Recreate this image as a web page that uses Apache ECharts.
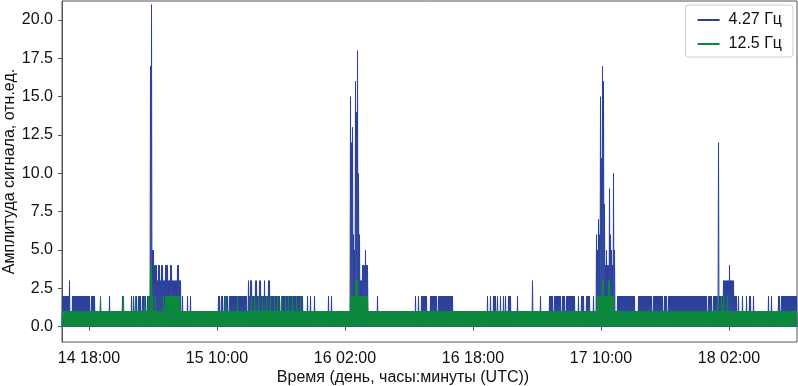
<!DOCTYPE html>
<html>
<head>
<meta charset="utf-8">
<script src="https://cdn.jsdelivr.net/npm/echarts@6/dist/echarts.min.js"></script>
<style>
html,body{margin:0;padding:0;background:#fff;}
#chart{width:798px;height:386px;}
</style>
</head>
<body>
<div id="chart"></div>
<script>
// Time is in hours counted from day 14, 00:00 UTC.
// Each envelope entry: [hour at which level starts, peak level reached by the signal from then on]
const seriesNames = ['4.27 Гц', '12.5 Гц'];
const timeStart = 14.625;
const timeEnd = 106.5;
const sampleStep = 0.125;

const blueEnvelope = [
 [14.625,2],[15.5,3],[15.625,1],[15.875,2],[18.125,1],[18.25,2],[18.75,1],[19.375,2],[19.5,1],
 [20.5,2],[20.625,1],[22.125,2],[22.25,1],[23.25,2],[23.375,1],[23.5,2],[23.625,1],[23.75,2],
 [24.0,1],[24.125,2],[24.5,1],[24.625,2],[25.125,1],[25.25,2],[25.625,17],[25.75,21],[25.875,5],
 [26.125,4],[26.5,3],[26.625,4],[26.875,3],[27.0,4],[27.25,3],[27.5,4],[27.875,3],[28.125,4],
 [28.375,3],[29.0,4],[29.25,3],[29.5,1],[29.625,2],[29.75,1],[30.25,2],[30.375,1],[30.625,2],
 [30.75,1],[34.125,2],[34.375,1],[34.5,2],[34.75,1],[34.875,2],[35.375,1],[35.5,2],[37.75,1],
 [37.875,3],[38.0,2],[38.125,3],[38.375,2],[38.75,3],[39.0,2],[39.25,3],[39.5,2],[39.875,3],
 [40.0,2],[40.375,3],[40.625,2],[41.875,1],[42.0,2],[43.375,1],[43.5,2],[44.75,1],[45.25,2],
 [45.375,1],[45.625,2],[45.75,1],[46.125,2],[46.25,1],[47.875,2],[48.0,1],[48.25,2],[48.375,1],
 [50.625,15],[50.75,12],[50.875,13],[51.0,6],[51.125,5],[51.25,16],[51.375,14],[51.5,18],
 [51.625,10],[51.75,6],[51.875,3],[52.125,4],[52.5,5],[52.625,4],[52.875,1],[54.0,2],[54.125,1],
 [58.75,2],[58.875,1],[59.125,2],[59.25,1],[59.5,2],[60.25,1],[60.625,2],[61.5,1],[61.625,2],
 [63.5,1],[67.75,2],[67.875,1],[68.125,2],[68.25,1],[68.5,2],[68.875,1],[69.0,2],[69.125,1],
 [69.375,2],[69.5,1],[69.75,2],[69.875,1],[70.0,2],[70.125,1],[70.375,2],[70.75,1],[71.5,2],
 [71.625,1],[73.375,3],[73.5,1],[74.375,2],[74.5,1],[75.5,2],[76.0,1],[76.125,2],[77.0,1],
 [77.125,2],[77.5,1],[77.625,2],[78.75,1],[79.125,2],[79.25,1],[79.5,2],[79.875,1],[80.125,2],
 [80.625,1],[81.0,2],[81.125,1],[81.375,6],[81.5,5],[81.625,7],[81.75,6],[81.875,15],[82.0,11],
 [82.125,17],[82.25,16],[82.375,8],[82.5,4],[82.625,5],[82.75,4],[83.0,9],[83.125,6],[83.25,5],
 [83.375,4],[83.5,10],[83.625,5],[83.75,1],[84.0,2],[86.25,1],[86.625,2],[88.375,1],[88.5,2],
 [89.75,1],[89.875,2],[90.25,1],[90.375,2],[95.25,1],[95.375,2],[95.875,1],[96.0,2],[96.625,12],
 [96.75,2],[97.25,3],[98.0,4],[98.125,3],[98.625,2],[99.0,1],[99.125,2],[99.25,1],[99.625,2],
 [99.75,1],[100.125,2],[100.25,1],[100.5,2],[100.75,1],[101.0,2],[101.125,1],[102.875,2],
 [103.0,1],[103.25,2],[103.375,1],[104.125,2],[104.375,1],[104.5,2]
];

const greenEnvelope = [
 [14.625,1],[19.375,2],[19.5,1],[22.25,2],[22.375,1],[23.75,2],[23.875,1],[24.875,2],[25.0,1],
 [25.375,2],[25.5,1],[25.625,4],[25.875,2],[26.0,1],[26.25,2],[26.375,1],[27.25,2],[27.375,1],
 [27.5,2],[29.375,1],[35.0,2],[35.125,1],[36.5,2],[36.625,1],[38.25,2],[38.375,1],[38.625,2],
 [38.75,1],[39.125,2],[39.25,1],[39.625,2],[39.75,1],[40.125,2],[40.25,1],[40.625,2],[40.75,1],
 [41.125,2],[41.25,1],[41.5,2],[41.625,1],[42.0,2],[42.125,1],[42.5,2],[42.625,1],[42.875,2],
 [43.0,1],[43.375,2],[43.5,1],[43.875,2],[44.0,1],[44.375,2],[44.5,1],[50.625,2],[51.25,3],
 [51.625,2],[52.875,1],[81.5,2],[82.125,3],[82.375,2],[82.875,3],[83.125,2],[83.625,1],
 [96.5,2],[96.625,1],[97.0,2],[97.125,1],[97.25,2],[97.375,1],[97.75,2],[97.875,1]
];
const signalFloor = 0;

const xTickHours = [18, 34, 50, 66, 82, 98];
const xTickLabels = ['14 18:00', '15 10:00', '16 02:00', '16 18:00', '17 10:00', '18 02:00'];
const yTickValues = [0, 2.5, 5, 7.5, 10, 12.5, 15, 17.5, 20];

function levelAt(env, t) {
  let v = env[0][1];
  for (let i = 0; i < env.length; i++) {
    if (env[i][0] <= t + 1e-9) v = env[i][1]; else break;
  }
  return v;
}
function buildPoints(env) {
  const pts = [];
  const n = Math.round((timeEnd - timeStart) / sampleStep);
  for (let k = 0; k < n; k++) {
    const t = timeStart + k * sampleStep;
    pts.push([t, signalFloor]);
    pts.push([t + sampleStep / 2, levelAt(env, t)]);
  }
  pts.push([timeEnd, signalFloor]);
  return pts;
}

const FONT = '"Liberation Sans", Arial, sans-serif';
const chart = echarts.init(document.getElementById('chart'), null, {renderer: 'canvas'});
chart.setOption({
  animation: false,
  backgroundColor: '#fff',
  textStyle: {fontFamily: FONT},
  grid: {left: 62, right: 1, top: 1, bottom: 44, show: true, borderColor: '#555', borderWidth: 1,
         backgroundColor: 'transparent', containLabel: false, outerBoundsMode: 'none'},
  legend: {
    orient: 'vertical', right: 5, top: 5,
    icon: 'rect', itemWidth: 22, itemHeight: 2, itemGap: 6,
    padding: [6, 11, 4, 12],
    borderColor: '#ccc', borderWidth: 1, borderRadius: 3, backgroundColor: '#fff',
    textStyle: {fontSize: 16, color: '#111', fontFamily: FONT, lineHeight: 18, padding: [0, 0, 0, 4]},
    data: seriesNames
  },
  xAxis: {
    type: 'value', min: timeStart, max: timeEnd,
    axisLine: {show: true, lineStyle: {color: '#555', width: 1}},
    axisTick: {show: true, customValues: xTickHours, length: 4, lineStyle: {color: '#555'}},
    axisLabel: {customValues: xTickHours, formatter: v => xTickLabels[xTickHours.indexOf(Math.round(v))] || '',
      fontSize: 16, color: '#111', margin: 9, fontFamily: FONT},
    splitLine: {show: false},
    name: 'Время (день, часы:минуты (UTC))', nameLocation: 'middle', nameGap: 28, nameMoveOverlap: false,
    nameTextStyle: {fontSize: 16, color: '#111', fontFamily: FONT, padding: [0, 53, 0, 0]}
  },
  yAxis: {
    type: 'value', min: -1.0, max: 21.24,
    axisLine: {show: true, lineStyle: {color: '#555', width: 1}},
    axisTick: {show: true, customValues: yTickValues, length: 4, lineStyle: {color: '#555'}},
    axisLabel: {customValues: yTickValues, formatter: v => v.toFixed(1), fontSize: 16, color: '#111', margin: 9, fontFamily: FONT},
    splitLine: {show: false},
    name: 'Амплитуда сигнала, отн.ед.', nameLocation: 'middle', nameGap: 44, nameMoveOverlap: false,
    nameTextStyle: {fontSize: 16, color: '#111', fontFamily: FONT}
  },
  series: [
    {name: seriesNames[0], type: 'line', data: buildPoints(blueEnvelope), showSymbol: false, symbol: 'none',
     sampling: null, lineStyle: {color: '#2a409b', width: 1}, itemStyle: {color: '#2a409b'}, z: 2},
    {name: seriesNames[1], type: 'line', data: buildPoints(greenEnvelope), showSymbol: false, symbol: 'none',
     sampling: null, lineStyle: {color: '#0c8a3c', width: 1}, itemStyle: {color: '#0c8a3c'}, z: 3}
  ]
});
</script>
</body>
</html>
